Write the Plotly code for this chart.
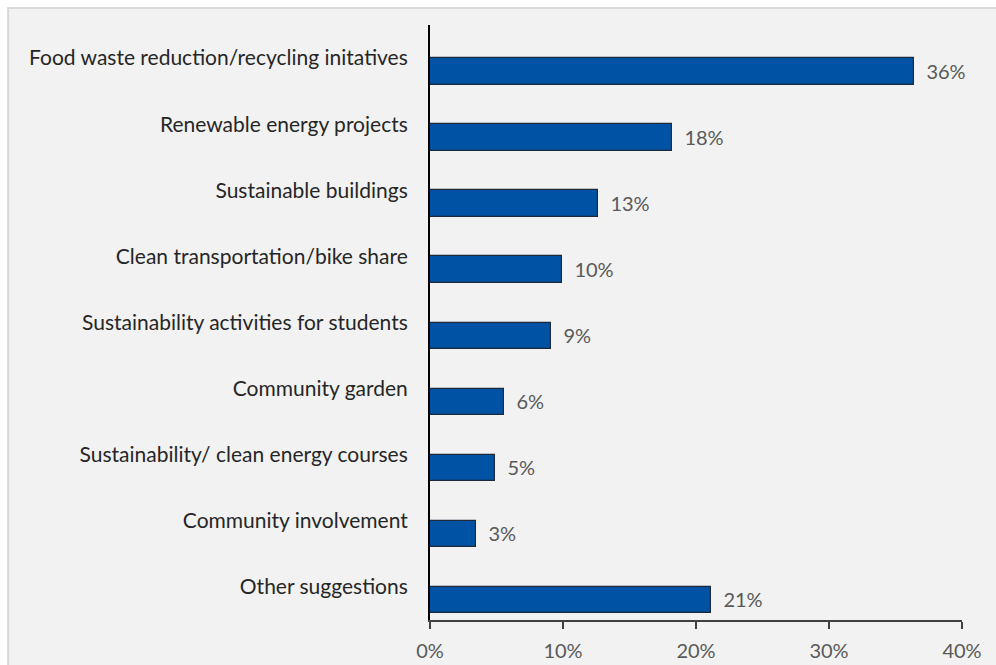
import plotly.graph_objects as go

categories = [
    "Food waste reduction/recycling initatives",
    "Renewable energy projects",
    "Sustainable buildings",
    "Clean transportation/bike share",
    "Sustainability activities for students",
    "Community garden",
    "Sustainability/ clean energy courses",
    "Community involvement",
    "Other suggestions",
]
shares = [0.364, 0.182, 0.126, 0.099, 0.091, 0.056, 0.049, 0.0345, 0.211]
x_ticks = [0, 0.1, 0.2, 0.3, 0.4]

BAR_BLUE = "#0053A4"
PANEL = "#F2F2F2"
LABEL_FONT = "Lato"

fig = go.Figure()
fig.add_trace(go.Bar(
    y=categories,
    x=shares,
    orientation="h",
    width=0.4,
    offset=0,
    marker=dict(color=BAR_BLUE, line=dict(color="#1E2A3A", width=1.2)),
    texttemplate="\u2002%{x:.0%}",
    textposition="outside",
    cliponaxis=False,
    textfont=dict(family=LABEL_FONT, size=20, color="#595959"),
    hoverinfo="skip",
))

# chart panel with a thin grey frame
fig.add_shape(
    type="rect", xref="paper", yref="paper",
    x0=-0.793, x1=1.3, y0=-0.2, y1=1.0286,
    fillcolor=PANEL, line=dict(color="#D9D9D9", width=2), layer="below",
)

fig.update_layout(
    width=996, height=665,
    margin=dict(l=430, r=34, t=25, b=45),
    paper_bgcolor="white",
    plot_bgcolor=PANEL,
    showlegend=False,
    font=dict(family=LABEL_FONT),
    bargap=0,
)
fig.update_xaxes(
    range=[0, 0.4], tickvals=x_ticks, tickformat=".0%",
    automargin=False,
    showgrid=False, zeroline=False,
    showline=True, linecolor="#404040", linewidth=1.5,
    ticks="outside", ticklen=7, tickwidth=1.5, tickcolor="#404040",
    ticklabelstandoff=5,
    tickfont=dict(family=LABEL_FONT, size=20, color="#595959"),
)
fig.update_yaxes(
    type="category", categoryorder="array", categoryarray=categories,
    range=[8.5, -0.5],
    automargin=False,
    showgrid=False, zeroline=False,
    showline=True, linecolor="#000000", linewidth=2,
    ticks="", ticklabelstandoff=16,
    tickfont=dict(family=LABEL_FONT, size=21, color="#262626"),
)

fig.write_html("out.html")
